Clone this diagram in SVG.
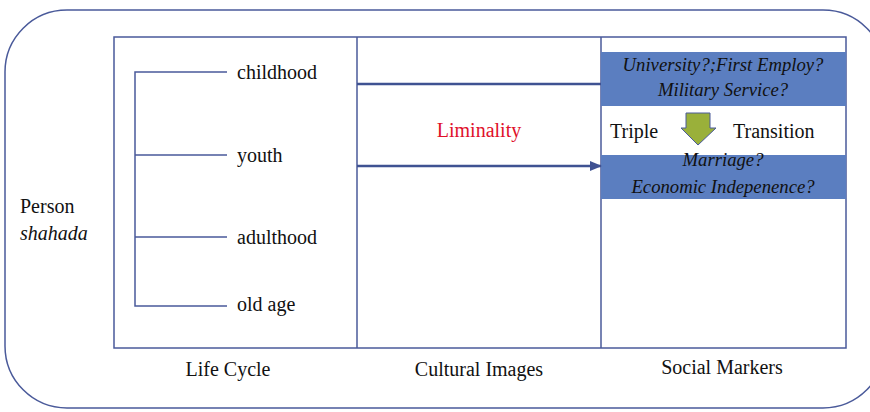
<svg xmlns="http://www.w3.org/2000/svg" width="870" height="412" viewBox="0 0 870 412">
<defs>
<style>
.ln{stroke:#4a5a9a;fill:none;stroke-width:1.5}
.bd{stroke:#3f5292;fill:none;stroke-width:2.5}
.t{font-family:"Liberation Serif",serif;font-size:20px;fill:#111}
.it{font-family:"Liberation Serif",serif;font-size:20px;fill:#111;font-style:italic}
.sm{font-size:18.7px}
.blue{fill:#5b7ec0}
</style>
<marker id="ah" markerWidth="12" markerHeight="10" refX="11" refY="5" orient="auto" markerUnits="userSpaceOnUse">
<path d="M0,0 L12,5 L0,10 Z" fill="#3f5292"/>
</marker>
</defs>
<rect x="5" y="10" width="880" height="398" rx="62" ry="62" class="ln"/>
<g id="table">
<rect x="114" y="37" width="732" height="311" class="ln"/>
<line x1="357" y1="37" x2="357" y2="348" class="ln"/>
<line x1="601" y1="37" x2="601" y2="348" class="ln"/>
</g>
<g id="markers">
<rect x="601" y="52" width="245" height="54" class="blue"/>
<rect x="601" y="155" width="245" height="44" class="blue"/>
<text x="723" y="71" text-anchor="middle" class="it sm">University?;First Employ?</text>
<text x="723" y="96" text-anchor="middle" class="it sm">Military Service?</text>
<text x="723" y="166" text-anchor="middle" class="it sm">Marriage?</text>
<text x="723" y="193" text-anchor="middle" class="it sm">Economic Indepenence?</text>
<text x="610" y="138" class="t">Triple</text>
<text x="733" y="138" class="t">Transition</text>
<path d="M686,113 H710 V128 H716 L698,145 L681,128 H686 Z" fill="#9ab03a" stroke="#4a5a9a" stroke-width="1"/>
</g>
<g id="lifecycle">
<path d="M227,72 H135 V306 H227 M135,155 H227 M135,237 H227" class="ln"/>
<text x="237" y="79" class="t">childhood</text>
<text x="237" y="162" class="t">youth</text>
<text x="237" y="244" class="t">adulthood</text>
<text x="237" y="311" class="t">old age</text>
</g>
<g id="connectors">
<line x1="357" y1="84" x2="601" y2="84" class="bd"/>
<line x1="357" y1="166" x2="601" y2="166" class="bd" marker-end="url(#ah)"/>
</g>
<g id="labels">
<text x="479" y="137" text-anchor="middle" class="t" style="fill:#e0102a">Liminality</text>
<text x="20" y="213" class="t">Person</text>
<text x="20" y="240" class="it">shahada</text>
<text x="228" y="376" text-anchor="middle" class="t">Life Cycle</text>
<text x="479" y="376" text-anchor="middle" class="t">Cultural Images</text>
<text x="722" y="374" text-anchor="middle" class="t">Social Markers</text>
</g>
</svg>
